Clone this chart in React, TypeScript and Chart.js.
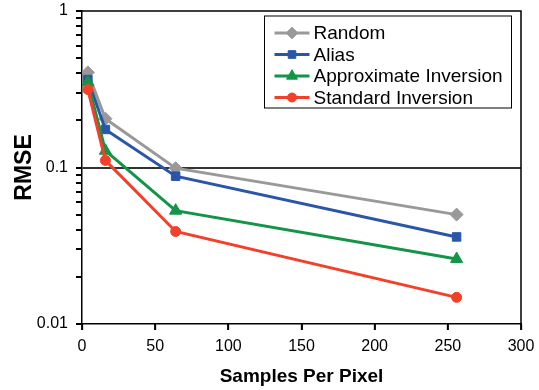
import React, { useEffect, useRef } from "react";
import { Chart, registerables } from "chart.js";

Chart.register(...registerables);

const samplesPerPixel = [4, 16, 64, 256];
const seriesNames = ["Random", "Alias", "Approximate Inversion", "Standard Inversion"];
const randomValues = [0.405, 0.205, 0.099, 0.05];
const aliasValues = [0.365, 0.175, 0.088, 0.036];
const approxValues = [0.35, 0.128, 0.053, 0.026];
const standardValues = [0.315, 0.111, 0.039, 0.0148];
const seriesColors = ["#999999", "#2a56a8", "#139447", "#f2412b"];
const pointStyles = ["rectRot", "rect", "triangle", "circle"];
const pointRadii = [6.5, 6, 7, 5];
const xTickValues = [0, 50, 100, 150, 200, 250, 300];
const yTickValues = [0.01, 0.02, 0.03, 0.04, 0.05, 0.06, 0.07, 0.08, 0.09, 0.1, 0.2, 0.3, 0.4, 0.5, 0.6, 0.7, 0.8, 0.9, 1];
const yMajorLabels: Record<string, string> = { "1": "1", "0.1": "0.1", "0.01": "0.01" };

const FONT = "'Liberation Sans', Arial, sans-serif";

function drawMarker(ctx: CanvasRenderingContext2D, style: string, x: number, y: number, r: number, color: string) {
  ctx.save();
  ctx.fillStyle = color;
  ctx.strokeStyle = color;
  ctx.lineWidth = 1;
  ctx.beginPath();
  if (style === "rectRot") {
    ctx.moveTo(x - r, y);
    ctx.lineTo(x, y - r);
    ctx.lineTo(x + r, y);
    ctx.lineTo(x, y + r);
    ctx.closePath();
  } else if (style === "rect") {
    const s = r * Math.SQRT1_2;
    ctx.rect(x - s, y - s, 2 * s, 2 * s);
  } else if (style === "triangle") {
    const a = (2 * Math.PI) / 3;
    let rad = -Math.PI / 2;
    ctx.moveTo(x + Math.cos(rad) * r, y + Math.sin(rad) * r);
    rad += a;
    ctx.lineTo(x + Math.cos(rad) * r, y + Math.sin(rad) * r);
    rad += a;
    ctx.lineTo(x + Math.cos(rad) * r, y + Math.sin(rad) * r);
    ctx.closePath();
  } else {
    ctx.arc(x, y, r, 0, Math.PI * 2);
  }
  ctx.fill();
  ctx.stroke();
  ctx.restore();
}

const framePlugin = {
  id: "frameAndLegend",
  afterDraw(chart: any) {
    const { ctx, chartArea } = chart;
    const yScale = chart.scales.y;
    const xScale = chart.scales.x;
    ctx.save();
    // frame
    ctx.strokeStyle = "#000";
    ctx.lineWidth = 1.5;
    ctx.beginPath();
    ctx.moveTo(chartArea.left, chartArea.top);
    ctx.lineTo(chartArea.right, chartArea.top);
    ctx.lineTo(chartArea.right, chartArea.bottom);
    ctx.stroke();
    // legend
    const boxW = 247;
    const boxH = 92;
    const boxR = chartArea.right - 9.5;
    const boxL = boxR - boxW;
    const boxT = chartArea.top + 5;
    ctx.fillStyle = "#fff";
    ctx.fillRect(boxL, boxT, boxW, boxH);
    ctx.strokeStyle = "#000";
    ctx.lineWidth = 1;
    ctx.strokeRect(boxL, boxT, boxW, boxH);
    ctx.font = `19px ${FONT}`;
    ctx.textBaseline = "middle";
    ctx.textAlign = "left";
    seriesNames.forEach((name, i) => {
      const y = boxT + 17 + i * 21.5;
      const x1 = boxL + 10;
      const x2 = boxL + 45;
      ctx.strokeStyle = seriesColors[i];
      ctx.lineWidth = 3;
      ctx.beginPath();
      ctx.moveTo(x1, y);
      ctx.lineTo(x2, y);
      ctx.stroke();
      drawMarker(ctx, pointStyles[i], (x1 + x2) / 2, y, pointRadii[i] * 0.9, seriesColors[i]);
      ctx.fillStyle = "#000";
      ctx.fillText(name, boxL + 49, y + 1);
    });
    ctx.restore();

    // tick marks (major + minor)
    ctx.save();
    ctx.setTransform(1, 0, 0, 1, 0, 0);
    ctx.strokeStyle = "#000";
    ctx.lineWidth = 1.8;
    ctx.beginPath();
    yTickValues.forEach((v) => {
      const py = Math.round(yScale.getPixelForValue(v));
      ctx.moveTo(chartArea.left - 6, py);
      ctx.lineTo(chartArea.left, py);
    });
    xTickValues.forEach((v) => {
      const px = Math.round(xScale.getPixelForValue(v));
      ctx.moveTo(px, chartArea.bottom);
      ctx.lineTo(px, chartArea.bottom + 6);
    });
    ctx.stroke();
    ctx.restore();
  },
};

export default function App() {
  const canvasRef = useRef<HTMLCanvasElement | null>(null);

  useEffect(() => {
    if (!canvasRef.current) return;
    const valuesList = [randomValues, aliasValues, approxValues, standardValues];
    const chart = new Chart(canvasRef.current, {
      type: "line",
      data: {
        datasets: valuesList.map((vals, i) => ({
          label: seriesNames[i],
          data: samplesPerPixel.map((x, j) => ({ x, y: vals[j] })),
          borderColor: seriesColors[i],
          backgroundColor: seriesColors[i],
          pointBackgroundColor: seriesColors[i],
          pointBorderColor: seriesColors[i],
          pointBorderWidth: 1,
          pointStyle: pointStyles[i] as any,
          pointRadius: pointRadii[i],
          borderWidth: 3,
          tension: 0,
          order: 4 - i,
        })),
      },
      options: {
        responsive: false,
        animation: false,
        layout: { padding: { left: 0, top: 11, right: 18, bottom: 0 } },
        plugins: {
          legend: { display: false },
          tooltip: { enabled: false },
        },
        scales: {
          x: {
            type: "linear",
            min: 0,
            max: 300,
            afterBuildTicks: (scale: any) => {
              scale.ticks = xTickValues.map((v) => ({ value: v }));
            },
            afterFit: (scale: any) => {
              scale.height = 66;
              scale.paddingLeft = 0;
              scale.paddingRight = 0;
            },
            grid: {
              drawOnChartArea: false,
              drawTicks: true,
              tickLength: 6,
              tickColor: "#000",
              tickWidth: 1.3,
              color: "#000",
            },
            border: { display: true, color: "#000", width: 1.5 },
            ticks: {
              color: "#000",
              font: { family: FONT, size: 16 },
              padding: 7,
              maxRotation: 0,
              autoSkip: false,
              source: "data",
            },
            title: {
              display: true,
              text: "Samples Per Pixel",
              color: "#000",
              font: { family: FONT, size: 19, weight: "bold" },
              padding: { top: 0, bottom: 2 },
            },
          },
          y: {
            type: "logarithmic",
            min: 0.01,
            max: 1,
            afterBuildTicks: (scale: any) => {
              scale.ticks = yTickValues.map((v) => ({ value: v, major: Boolean(yMajorLabels[String(v)]) }));
            },
            afterFit: (scale: any) => {
              scale.width = 82;
              scale.paddingTop = 0;
              scale.paddingBottom = 0;
            },
            grid: {
              drawOnChartArea: true,
              drawTicks: true,
              tickLength: 6,
              tickWidth: 1.3,
              tickColor: "#000",
              lineWidth: 2,
              color: (c: any) => {
                const v = c.tick ? c.tick.value : 0;
                return Math.abs(v - 0.1) < 1e-9 ? "#333" : "rgba(0,0,0,0)";
              },
            },
            border: { display: true, color: "#000", width: 1.5 },
            ticks: {
              color: "#000",
              font: { family: FONT, size: 16 },
              padding: 8,
              autoSkip: false,
              source: "data",
              callback: (value: any) => {
                const key = String(parseFloat(Number(value).toPrecision(3)));
                return yMajorLabels[key] ?? "";
              },
            },
            title: {
              display: true,
              text: "RMSE",
              color: "#000",
              font: { family: FONT, size: 23, weight: "bold" },
              padding: { top: 11, bottom: 0 },
            },
          },
        },
      },
      plugins: [framePlugin],
    } as any);
    return () => chart.destroy();
  }, []);

  return (
    <div style={{ position: "fixed", left: 0, top: 0, width: 539, height: 390, background: "#fff" }}>
      <canvas ref={canvasRef} width={539} height={390} />
    </div>
  );
}
